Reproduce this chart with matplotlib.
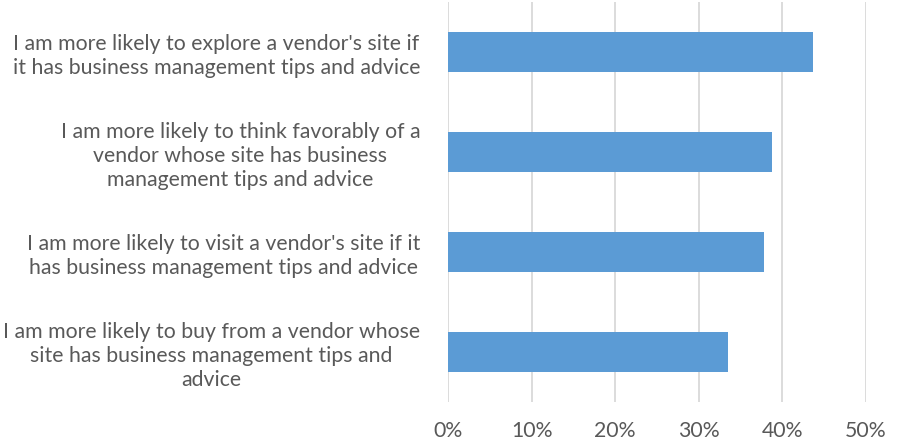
import matplotlib.pyplot as plt
from matplotlib.ticker import PercentFormatter

labels = [
    "I am more likely to explore a vendor's site if\nit has business management tips and advice",
    "I am more likely to think favorably of a\nvendor whose site has business\nmanagement tips and advice",
    "I am more likely to visit a vendor's site if it\nhas business management tips and advice",
    "I am more likely to buy from a vendor whose\nsite has business management tips and\nadvice",
]
values = [43.7, 38.8, 37.8, 33.5]
ticks = [0, 10, 20, 30, 40, 50]

plt.rcParams["font.family"] = ["Lato", "DejaVu Sans"]
text_color = "#595959"

fig = plt.figure(figsize=(9.01, 4.48), dpi=100)
ax = fig.add_axes([448 / 901, 46 / 448, 417.7 / 901, 400 / 448])

pos = list(range(len(labels)))[::-1]
ax.barh(pos, values, height=0.4, color="#5B9BD5", zorder=3)

ax.set_xlim(0, 50)
ax.set_ylim(-0.5, len(labels) - 0.5)
ax.set_xticks(ticks)
ax.xaxis.set_major_formatter(PercentFormatter(decimals=0))
ax.grid(axis="x", color="#d9d9d9", linewidth=1.3, zorder=0)

ax.set_yticks(pos)
ax.set_yticklabels(labels, multialignment="center", linespacing=1.25)

for s in ax.spines.values():
    s.set_visible(False)
ax.tick_params(axis="both", length=0, labelsize=15.3, colors=text_color)
ax.tick_params(axis="y", pad=20)
ax.tick_params(axis="x", pad=14)

fig.savefig("out.png", dpi=100)
